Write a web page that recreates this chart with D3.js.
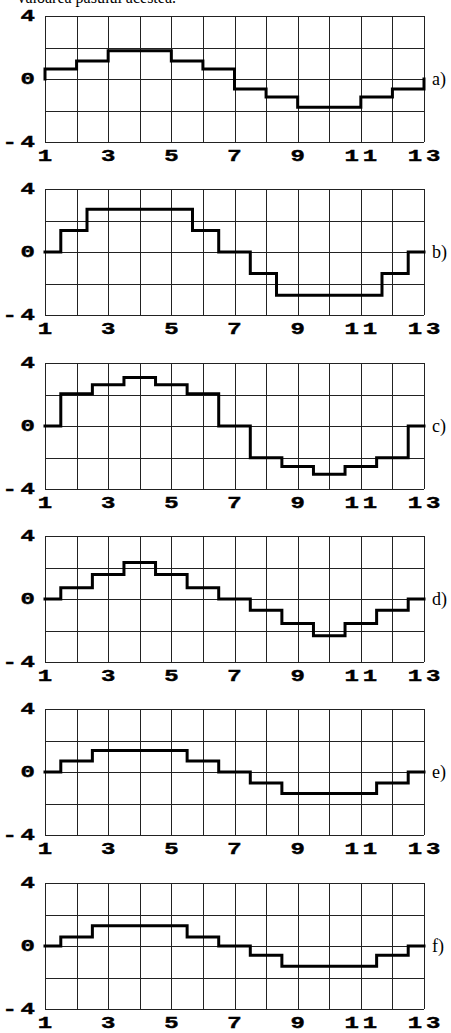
<html>
<head>
<meta charset="utf-8">
<style>
  body { margin: 0; background: #fff; }
  .grid line { stroke: #222; stroke-width: 1; shape-rendering: crispEdges; }
  .step { fill: none; stroke: #000; stroke-width: 3; stroke-linejoin: miter; stroke-linecap: square; }
  .tick { font-family: "Liberation Mono", "DejaVu Sans Mono", monospace; font-weight: bold; font-size: 16px; fill: #000; stroke: #000; stroke-width: 0.4; }
  .tag { font-family: "Liberation Serif", "DejaVu Serif", serif; font-size: 18px; fill: #000; }
  .caption { font-family: "Liberation Serif", serif; font-size: 16px; fill: #000; }
</style>
<script src="https://cdn.jsdelivr.net/npm/d3@7"></script>
</head>
<body>
<svg width="451" height="1033"></svg>
<script>
// panel tags
var tags = ["a)", "b)", "c)", "d)", "e)", "f)"];

// step edges (x) and levels (y) for every panel
var edgesA = [1, 2, 3, 5, 6, 7, 8, 9, 11, 12, 13];
var levelsA = [0.63, 1.14, 1.8, 1.14, 0.63, -0.63, -1.14, -1.8, -1.14, -0.63];

var edgesB = [1, 1.5, 2.33, 5.67, 6.5, 7.5, 8.33, 11.67, 12.5, 13];
var levelsB = [0, 1.36, 2.72, 1.36, 0, -1.36, -2.75, -1.36, 0];

var edgesC = [1, 1.5, 2.5, 3.5, 4.5, 5.5, 6.5, 7.5, 8.5, 9.5, 10.5, 11.5, 12.5, 13];
var levelsC = [0, 2.05, 2.62, 3.08, 2.62, 2.05, 0, -2.02, -2.57, -3.06, -2.57, -2.02, 0];

var edgesD = [1, 1.5, 2.5, 3.5, 4.5, 5.5, 6.5, 7.5, 8.5, 9.5, 10.5, 11.5, 12.5, 13];
var levelsD = [0, 0.72, 1.55, 2.32, 1.55, 0.72, 0, -0.72, -1.55, -2.34, -1.55, -0.72, 0];

var edgesE = [1, 1.5, 2.5, 5.5, 6.5, 7.5, 8.5, 11.5, 12.5, 13];
var levelsE = [0, 0.7, 1.37, 0.7, 0, -0.7, -1.37, -0.7, 0];

var edgesF = [1, 1.5, 2.5, 5.5, 6.5, 7.5, 8.5, 11.5, 12.5, 13];
var levelsF = [0, 0.57, 1.29, 0.57, 0, -0.59, -1.29, -0.59, 0];

var allEdges = [edgesA, edgesB, edgesC, edgesD, edgesE, edgesF];
var allLevels = [levelsA, levelsB, levelsC, levelsD, levelsE, levelsF];

// axes
var xTicks = [1, 3, 5, 7, 9, 11, 13];
var xGrid = d3.range(1, 14);
var yTicks = [4, 0, -4];
var yGrid = [4, 2, 0, -2, -4];

var svg = d3.select("svg");
var left = 45, right = 424, panelH = 126, firstTop = 16, gap = 173.3;
var sx = 1.5, ls = 2.5; // horizontal stretch and spacing of the tick font

var x = d3.scaleLinear().domain([1, 13]).range([left, right]);
var y = d3.scaleLinear().domain([-4, 4]).range([panelH, 0]);

// caption cut off at the top of the picture
svg.append("text").attr("class", "caption")
  .attr("x", 176).attr("y", 3).attr("text-anchor", "end")
  .text("valoarea pasului acestea.");

var line = d3.line().x(function(d) { return x(d[0]); }).y(function(d) { return y(d[1]); });

tags.forEach(function(tag, i) {
  var g = svg.append("g").attr("transform", "translate(0," + Math.round(firstTop + i * gap) + ")");

  var grid = g.append("g").attr("class", "grid");
  grid.selectAll(".v").data(xGrid).enter().append("line")
    .attr("x1", function(d) { return Math.round(x(d)) + 0.5; })
    .attr("x2", function(d) { return Math.round(x(d)) + 0.5; })
    .attr("y1", y(4)).attr("y2", y(-4));
  grid.selectAll(".h").data(yGrid).enter().append("line")
    .attr("y1", function(d) { return Math.round(y(d)) + 0.5; })
    .attr("y2", function(d) { return Math.round(y(d)) + 0.5; })
    .attr("x1", x(1)).attr("x2", x(13));

  // step path: from (1,0) along the levels back to (13,0)
  var edges = allEdges[i], levels = allLevels[i];
  var pts = [[edges[0], 0]];
  levels.forEach(function(v, k) {
    pts.push([edges[k], v]);
    pts.push([edges[k + 1], v]);
  });
  pts.push([edges[edges.length - 1], 0]);
  g.append("path").attr("class", "step").attr("d", line(pts));

  // y tick labels
  g.selectAll(".yl").data(yTicks).enter().append("text")
    .attr("class", "tick")
    .attr("transform", function(d) { return "translate(" + (35 + ls * sx) + "," + (y(d) + 5) + ") scale(" + sx + ",1)"; })
    .attr("text-anchor", "end")
    .style("letter-spacing", ls + "px")
    .text(function(d) { return d; });

  // x tick labels
  g.selectAll(".xl").data(xTicks).enter().append("text")
    .attr("class", "tick")
    .attr("transform", function(d) { return "translate(" + (x(d) + ls * sx / 2) + "," + (panelH + 19) + ") scale(" + sx + ",1)"; })
    .attr("text-anchor", "middle")
    .style("letter-spacing", ls + "px")
    .text(function(d) { return d; });

  g.append("text").attr("class", "tag")
    .attr("x", 432).attr("y", y(0) + 6)
    .text(tag);
});
</script>
</body>
</html>
